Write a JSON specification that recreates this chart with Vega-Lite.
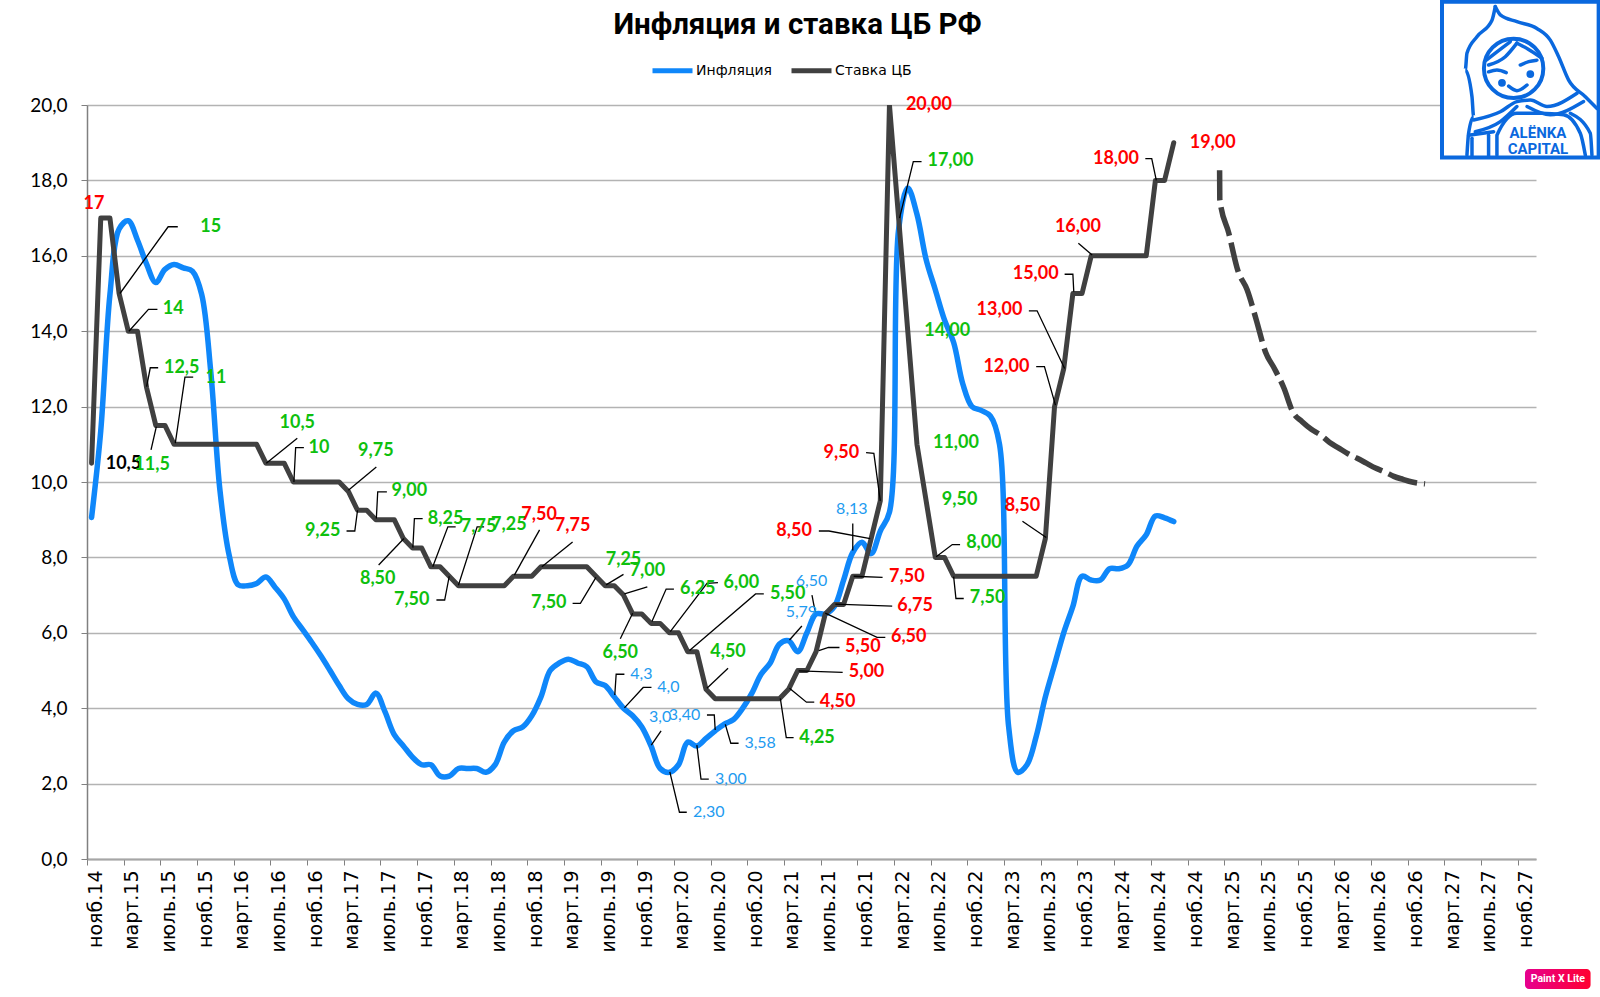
{"$schema":"https://vega.github.io/schema/vega-lite/v6.json","width":1449,"height":754,"autosize":{"type":"none"},"padding":{"left":87,"top":105,"right":64,"bottom":138},"background":"white","title":{"text":"Инфляция и ставка ЦБ РФ","font":"Roboto","fontSize":29.5,"fontWeight":"bold","color":"#000000","anchor":"middle","frame":"group","dx":-14,"offset":-41},"config":{"view":{"stroke":null}},"resolve":{"scale":{"color":"independent"}},"datasets":{"main":[{"date":"2014-11","m":0,"Инфляция":9.06,"Ставка ЦБ":10.5},{"date":"2014-12","m":1,"Инфляция":11.36,"Ставка ЦБ":17},{"date":"2015-01","m":2,"Инфляция":14.97,"Ставка ЦБ":17},{"date":"2015-02","m":3,"Инфляция":16.71,"Ставка ЦБ":15},{"date":"2015-03","m":4,"Инфляция":16.93,"Ставка ЦБ":14},{"date":"2015-04","m":5,"Инфляция":16.42,"Ставка ЦБ":14},{"date":"2015-05","m":6,"Инфляция":15.78,"Ставка ЦБ":12.5},{"date":"2015-06","m":7,"Инфляция":15.29,"Ставка ЦБ":11.5},{"date":"2015-07","m":8,"Инфляция":15.64,"Ставка ЦБ":11.5},{"date":"2015-08","m":9,"Инфляция":15.77,"Ставка ЦБ":11},{"date":"2015-09","m":10,"Инфляция":15.68,"Ставка ЦБ":11},{"date":"2015-10","m":11,"Инфляция":15.59,"Ставка ЦБ":11},{"date":"2015-11","m":12,"Инфляция":14.98,"Ставка ЦБ":11},{"date":"2015-12","m":13,"Инфляция":12.91,"Ставка ЦБ":11},{"date":"2016-01","m":14,"Инфляция":9.77,"Ставка ЦБ":11},{"date":"2016-02","m":15,"Инфляция":8.06,"Ставка ЦБ":11},{"date":"2016-03","m":16,"Инфляция":7.27,"Ставка ЦБ":11},{"date":"2016-04","m":17,"Инфляция":7.25,"Ставка ЦБ":11},{"date":"2016-05","m":18,"Инфляция":7.31,"Ставка ЦБ":11},{"date":"2016-06","m":19,"Инфляция":7.48,"Ставка ЦБ":10.5},{"date":"2016-07","m":20,"Инфляция":7.21,"Ставка ЦБ":10.5},{"date":"2016-08","m":21,"Инфляция":6.9,"Ставка ЦБ":10.5},{"date":"2016-09","m":22,"Инфляция":6.43,"Ставка ЦБ":10},{"date":"2016-10","m":23,"Инфляция":6.09,"Ставка ЦБ":10},{"date":"2016-11","m":24,"Инфляция":5.75,"Ставка ЦБ":10},{"date":"2016-12","m":25,"Инфляция":5.39,"Ставка ЦБ":10},{"date":"2017-01","m":26,"Инфляция":5.0,"Ставка ЦБ":10},{"date":"2017-02","m":27,"Инфляция":4.6,"Ставка ЦБ":10},{"date":"2017-03","m":28,"Инфляция":4.25,"Ставка ЦБ":9.75},{"date":"2017-04","m":29,"Инфляция":4.1,"Ставка ЦБ":9.25},{"date":"2017-05","m":30,"Инфляция":4.1,"Ставка ЦБ":9.25},{"date":"2017-06","m":31,"Инфляция":4.4,"Ставка ЦБ":9},{"date":"2017-07","m":32,"Инфляция":3.9,"Ставка ЦБ":9},{"date":"2017-08","m":33,"Инфляция":3.3,"Ставка ЦБ":9},{"date":"2017-09","m":34,"Инфляция":3.0,"Ставка ЦБ":8.5},{"date":"2017-10","m":35,"Инфляция":2.7,"Ставка ЦБ":8.25},{"date":"2017-11","m":36,"Инфляция":2.5,"Ставка ЦБ":8.25},{"date":"2017-12","m":37,"Инфляция":2.5,"Ставка ЦБ":7.75},{"date":"2018-01","m":38,"Инфляция":2.2,"Ставка ЦБ":7.75},{"date":"2018-02","m":39,"Инфляция":2.2,"Ставка ЦБ":7.5},{"date":"2018-03","m":40,"Инфляция":2.4,"Ставка ЦБ":7.25},{"date":"2018-04","m":41,"Инфляция":2.4,"Ставка ЦБ":7.25},{"date":"2018-05","m":42,"Инфляция":2.4,"Ставка ЦБ":7.25},{"date":"2018-06","m":43,"Инфляция":2.3,"Ставка ЦБ":7.25},{"date":"2018-07","m":44,"Инфляция":2.5,"Ставка ЦБ":7.25},{"date":"2018-08","m":45,"Инфляция":3.1,"Ставка ЦБ":7.25},{"date":"2018-09","m":46,"Инфляция":3.4,"Ставка ЦБ":7.5},{"date":"2018-10","m":47,"Инфляция":3.5,"Ставка ЦБ":7.5},{"date":"2018-11","m":48,"Инфляция":3.8,"Ставка ЦБ":7.5},{"date":"2018-12","m":49,"Инфляция":4.3,"Ставка ЦБ":7.75},{"date":"2019-01","m":50,"Инфляция":5.0,"Ставка ЦБ":7.75},{"date":"2019-02","m":51,"Инфляция":5.2,"Ставка ЦБ":7.75},{"date":"2019-03","m":52,"Инфляция":5.3,"Ставка ЦБ":7.75},{"date":"2019-04","m":53,"Инфляция":5.2,"Ставка ЦБ":7.75},{"date":"2019-05","m":54,"Инфляция":5.1,"Ставка ЦБ":7.75},{"date":"2019-06","m":55,"Инфляция":4.7,"Ставка ЦБ":7.5},{"date":"2019-07","m":56,"Инфляция":4.6,"Ставка ЦБ":7.25},{"date":"2019-08","m":57,"Инфляция":4.3,"Ставка ЦБ":7.25},{"date":"2019-09","m":58,"Инфляция":4.0,"Ставка ЦБ":7},{"date":"2019-10","m":59,"Инфляция":3.8,"Ставка ЦБ":6.5},{"date":"2019-11","m":60,"Инфляция":3.5,"Ставка ЦБ":6.5},{"date":"2019-12","m":61,"Инфляция":3.0,"Ставка ЦБ":6.25},{"date":"2020-01","m":62,"Инфляция":2.4,"Ставка ЦБ":6.25},{"date":"2020-02","m":63,"Инфляция":2.3,"Ставка ЦБ":6},{"date":"2020-03","m":64,"Инфляция":2.5,"Ставка ЦБ":6},{"date":"2020-04","m":65,"Инфляция":3.1,"Ставка ЦБ":5.5},{"date":"2020-05","m":66,"Инфляция":3.0,"Ставка ЦБ":5.5},{"date":"2020-06","m":67,"Инфляция":3.2,"Ставка ЦБ":4.5},{"date":"2020-07","m":68,"Инфляция":3.4,"Ставка ЦБ":4.25},{"date":"2020-08","m":69,"Инфляция":3.58,"Ставка ЦБ":4.25},{"date":"2020-09","m":70,"Инфляция":3.7,"Ставка ЦБ":4.25},{"date":"2020-10","m":71,"Инфляция":4.0,"Ставка ЦБ":4.25},{"date":"2020-11","m":72,"Инфляция":4.4,"Ставка ЦБ":4.25},{"date":"2020-12","m":73,"Инфляция":4.9,"Ставка ЦБ":4.25},{"date":"2021-01","m":74,"Инфляция":5.2,"Ставка ЦБ":4.25},{"date":"2021-02","m":75,"Инфляция":5.7,"Ставка ЦБ":4.25},{"date":"2021-03","m":76,"Инфляция":5.79,"Ставка ЦБ":4.5},{"date":"2021-04","m":77,"Инфляция":5.5,"Ставка ЦБ":5},{"date":"2021-05","m":78,"Инфляция":6.0,"Ставка ЦБ":5},{"date":"2021-06","m":79,"Инфляция":6.5,"Ставка ЦБ":5.5},{"date":"2021-07","m":80,"Инфляция":6.5,"Ставка ЦБ":6.5},{"date":"2021-08","m":81,"Инфляция":6.7,"Ставка ЦБ":6.75},{"date":"2021-09","m":82,"Инфляция":7.4,"Ставка ЦБ":6.75},{"date":"2021-10","m":83,"Инфляция":8.13,"Ставка ЦБ":7.5},{"date":"2021-11","m":84,"Инфляция":8.4,"Ставка ЦБ":7.5},{"date":"2021-12","m":85,"Инфляция":8.1,"Ставка ЦБ":8.5},{"date":"2022-01","m":86,"Инфляция":8.7,"Ставка ЦБ":9.5},{"date":"2022-02","m":87,"Инфляция":9.2,"Ставка ЦБ":20},{"date":"2022-03","m":88,"Инфляция":16.7,"Ставка ЦБ":17},{"date":"2022-04","m":89,"Инфляция":17.8,"Ставка ЦБ":14},{"date":"2022-05","m":90,"Инфляция":17.1,"Ставка ЦБ":11},{"date":"2022-06","m":91,"Инфляция":15.9,"Ставка ЦБ":9.5},{"date":"2022-07","m":92,"Инфляция":15.1,"Ставка ЦБ":8},{"date":"2022-08","m":93,"Инфляция":14.3,"Ставка ЦБ":8},{"date":"2022-09","m":94,"Инфляция":13.7,"Ставка ЦБ":7.5},{"date":"2022-10","m":95,"Инфляция":12.6,"Ставка ЦБ":7.5},{"date":"2022-11","m":96,"Инфляция":12.0,"Ставка ЦБ":7.5},{"date":"2022-12","m":97,"Инфляция":11.9,"Ставка ЦБ":7.5},{"date":"2023-01","m":98,"Инфляция":11.75,"Ставка ЦБ":7.5},{"date":"2023-02","m":99,"Инфляция":11.0,"Ставка ЦБ":7.5},{"date":"2023-03","m":100,"Инфляция":3.5,"Ставка ЦБ":7.5},{"date":"2023-04","m":101,"Инфляция":2.3,"Ставка ЦБ":7.5},{"date":"2023-05","m":102,"Инфляция":2.5,"Ставка ЦБ":7.5},{"date":"2023-06","m":103,"Инфляция":3.25,"Ставка ЦБ":7.5},{"date":"2023-07","m":104,"Инфляция":4.3,"Ставка ЦБ":8.5},{"date":"2023-08","m":105,"Инфляция":5.15,"Ставка ЦБ":12},{"date":"2023-09","m":106,"Инфляция":6.0,"Ставка ЦБ":13},{"date":"2023-10","m":107,"Инфляция":6.7,"Ставка ЦБ":15},{"date":"2023-11","m":108,"Инфляция":7.5,"Ставка ЦБ":15},{"date":"2023-12","m":109,"Инфляция":7.4,"Ставка ЦБ":16},{"date":"2024-01","m":110,"Инфляция":7.4,"Ставка ЦБ":16},{"date":"2024-02","m":111,"Инфляция":7.7,"Ставка ЦБ":16},{"date":"2024-03","m":112,"Инфляция":7.7,"Ставка ЦБ":16},{"date":"2024-04","m":113,"Инфляция":7.8,"Ставка ЦБ":16},{"date":"2024-05","m":114,"Инфляция":8.3,"Ставка ЦБ":16},{"date":"2024-06","m":115,"Инфляция":8.6,"Ставка ЦБ":16},{"date":"2024-07","m":116,"Инфляция":9.1,"Ставка ЦБ":18},{"date":"2024-08","m":117,"Инфляция":9.05,"Ставка ЦБ":18},{"date":"2024-09","m":118,"Инфляция":8.95,"Ставка ЦБ":19}],"forecast":[{"m":123,"v":18.27},{"m":123.02,"v":17.5},{"m":124,"v":16.6},{"m":125,"v":15.6},{"m":126,"v":15.1},{"m":127,"v":14.3},{"m":128,"v":13.45},{"m":129,"v":13.0},{"m":130,"v":12.5},{"m":131,"v":11.85},{"m":132,"v":11.6},{"m":133,"v":11.4},{"m":134,"v":11.25},{"m":135,"v":11.05},{"m":136,"v":10.9},{"m":137,"v":10.75},{"m":138,"v":10.63},{"m":139,"v":10.5},{"m":140,"v":10.37},{"m":141,"v":10.27},{"m":142,"v":10.15},{"m":143,"v":10.07},{"m":144,"v":10.0},{"m":145.4,"v":9.95}],"rateLabels":[{"t":"17","m":0.25,"v":17.37,"k":"рост"},{"t":"15","m":13,"v":16.77,"k":"снижение"},{"t":"14","m":8.9,"v":14.58,"k":"снижение"},{"t":"12,5","m":9.83,"v":13.03,"k":"снижение"},{"t":"11","m":13.57,"v":12.77,"k":"снижение"},{"t":"10,5","m":3.48,"v":10.49,"k":"прочее"},{"t":"11,5","m":6.6,"v":10.45,"k":"снижение"},{"t":"10,5","m":22.43,"v":11.57,"k":"снижение"},{"t":"10","m":24.8,"v":10.91,"k":"снижение"},{"t":"9,75","m":31,"v":10.82,"k":"снижение"},{"t":"9,25","m":25.2,"v":8.7,"k":"снижение"},{"t":"9,00","m":34.65,"v":9.76,"k":"снижение"},{"t":"8,25","m":38.6,"v":9.03,"k":"снижение"},{"t":"8,50","m":31.2,"v":7.42,"k":"снижение"},{"t":"7,75","m":42.2,"v":8.81,"k":"снижение"},{"t":"7,25","m":45.5,"v":8.86,"k":"снижение"},{"t":"7,50","m":34.9,"v":6.87,"k":"снижение"},{"t":"7,50","m":48.8,"v":9.12,"k":"рост"},{"t":"7,75","m":52.45,"v":8.83,"k":"рост"},{"t":"7,25","m":58,"v":7.93,"k":"снижение"},{"t":"7,00","m":60.6,"v":7.65,"k":"снижение"},{"t":"7,50","m":49.85,"v":6.78,"k":"снижение"},{"t":"6,50","m":57.65,"v":5.46,"k":"снижение"},{"t":"6,25","m":66.1,"v":7.16,"k":"снижение"},{"t":"6,00","m":70.85,"v":7.33,"k":"снижение"},{"t":"5,50","m":75.9,"v":7.03,"k":"снижение"},{"t":"4,50","m":69.4,"v":5.48,"k":"снижение"},{"t":"4,25","m":79.1,"v":3.22,"k":"снижение"},{"t":"4,50","m":81.35,"v":4.16,"k":"рост"},{"t":"5,00","m":84.5,"v":4.97,"k":"рост"},{"t":"5,50","m":84.1,"v":5.63,"k":"рост"},{"t":"6,50","m":89.1,"v":5.88,"k":"рост"},{"t":"6,75","m":89.8,"v":6.71,"k":"рост"},{"t":"7,50","m":88.9,"v":7.47,"k":"рост"},{"t":"8,50","m":76.6,"v":8.7,"k":"рост"},{"t":"9,50","m":81.75,"v":10.78,"k":"рост"},{"t":"20,00","m":91.3,"v":19.99,"k":"рост"},{"t":"17,00","m":93.65,"v":18.52,"k":"снижение"},{"t":"14,00","m":93.3,"v":14.01,"k":"снижение"},{"t":"11,00","m":94.25,"v":11.03,"k":"снижение"},{"t":"9,50","m":94.65,"v":9.52,"k":"снижение"},{"t":"8,00","m":97.3,"v":8.37,"k":"снижение"},{"t":"7,50","m":97.7,"v":6.91,"k":"снижение"},{"t":"8,50","m":101.5,"v":9.36,"k":"рост"},{"t":"12,00","m":99.75,"v":13.06,"k":"рост"},{"t":"13,00","m":99,"v":14.56,"k":"рост"},{"t":"15,00","m":102.95,"v":15.52,"k":"рост"},{"t":"16,00","m":107.55,"v":16.76,"k":"рост"},{"t":"18,00","m":111.7,"v":18.58,"k":"рост"},{"t":"19,00","m":122.25,"v":19,"k":"рост"}],"cpiLabels":[{"t":"8,13","m":82.9,"v":9.28},{"t":"6,50","m":78.5,"v":7.37},{"t":"5,79","m":77.4,"v":6.54},{"t":"4,3","m":59.95,"v":4.9},{"t":"4,0","m":62.9,"v":4.55},{"t":"3,0","m":62,"v":3.77},{"t":"3,40","m":64.65,"v":3.82},{"t":"3,58","m":72.9,"v":3.07},{"t":"3,00","m":69.7,"v":2.12},{"t":"2,30","m":67.3,"v":1.24}],"leaders":[{"id":1,"o":1,"m":3.09,"v":15},{"id":1,"o":2,"m":8.35,"v":16.77},{"id":1,"o":3,"m":9.4,"v":16.77},{"id":2,"o":1,"m":4.07,"v":14},{"id":2,"o":2,"m":6.2,"v":14.58},{"id":2,"o":3,"m":7.18,"v":14.58},{"id":3,"o":1,"m":6,"v":12.53},{"id":3,"o":2,"m":6.4,"v":13.03},{"id":3,"o":3,"m":7.26,"v":13.03},{"id":4,"o":1,"m":9.13,"v":11.03},{"id":4,"o":2,"m":10.18,"v":12.78},{"id":4,"o":3,"m":11.08,"v":12.78},{"id":5,"o":1,"m":7.06,"v":11.47},{"id":5,"o":2,"m":6.48,"v":10.85},{"id":6,"o":1,"m":19.05,"v":10.5},{"id":6,"o":2,"m":22.43,"v":11.16},{"id":7,"o":1,"m":22.06,"v":10},{"id":7,"o":2,"m":22.25,"v":10.91},{"id":7,"o":3,"m":23.15,"v":10.91},{"id":8,"o":1,"m":28,"v":9.78},{"id":8,"o":2,"m":31.05,"v":10.4},{"id":9,"o":1,"m":29,"v":9.25},{"id":9,"o":2,"m":28.7,"v":8.7},{"id":9,"o":3,"m":27.8,"v":8.7},{"id":10,"o":1,"m":31.05,"v":9.03},{"id":10,"o":2,"m":31.2,"v":9.74},{"id":10,"o":3,"m":32.2,"v":9.74},{"id":11,"o":1,"m":35.03,"v":8.26},{"id":11,"o":2,"m":35.2,"v":9.03},{"id":11,"o":3,"m":36.1,"v":9.03},{"id":12,"o":1,"m":34.06,"v":8.5},{"id":12,"o":2,"m":31.3,"v":7.8},{"id":13,"o":1,"m":37.2,"v":7.75},{"id":13,"o":2,"m":38.85,"v":8.81},{"id":13,"o":3,"m":39.7,"v":8.81},{"id":14,"o":1,"m":40,"v":7.26},{"id":14,"o":2,"m":42.04,"v":8.81},{"id":14,"o":3,"m":42.8,"v":8.81},{"id":15,"o":1,"m":39,"v":7.5},{"id":15,"o":2,"m":38.5,"v":6.87},{"id":15,"o":3,"m":37.6,"v":6.87},{"id":16,"o":1,"m":46.1,"v":7.53},{"id":16,"o":2,"m":48.85,"v":8.73},{"id":17,"o":1,"m":49.1,"v":7.75},{"id":17,"o":2,"m":52.45,"v":8.41},{"id":18,"o":1,"m":56.1,"v":7.27},{"id":18,"o":2,"m":58,"v":7.55},{"id":19,"o":1,"m":58.1,"v":7.03},{"id":19,"o":2,"m":60.6,"v":7.22},{"id":20,"o":1,"m":55,"v":7.47},{"id":20,"o":2,"m":53.3,"v":6.78},{"id":20,"o":3,"m":52.45,"v":6.78},{"id":21,"o":1,"m":59,"v":6.52},{"id":21,"o":2,"m":57.65,"v":5.84},{"id":22,"o":1,"m":61.1,"v":6.3},{"id":22,"o":2,"m":62.65,"v":7.16},{"id":22,"o":3,"m":63.5,"v":7.16},{"id":23,"o":1,"m":63.1,"v":6.03},{"id":23,"o":2,"m":67.1,"v":7.31},{"id":23,"o":3,"m":68.3,"v":7.33},{"id":24,"o":1,"m":65.2,"v":5.53},{"id":24,"o":2,"m":72.4,"v":7.03},{"id":24,"o":3,"m":73.3,"v":7.03},{"id":25,"o":1,"m":67.1,"v":4.53},{"id":25,"o":2,"m":69.4,"v":5.06},{"id":26,"o":1,"m":75.1,"v":4.26},{"id":26,"o":2,"m":75.75,"v":3.22},{"id":26,"o":3,"m":76.55,"v":3.22},{"id":27,"o":1,"m":76.1,"v":4.53},{"id":27,"o":2,"m":77.95,"v":4.16},{"id":27,"o":3,"m":78.8,"v":4.16},{"id":28,"o":1,"m":77.1,"v":4.99},{"id":28,"o":2,"m":81.9,"v":4.95},{"id":29,"o":1,"m":79.3,"v":5.53},{"id":29,"o":2,"m":80.35,"v":5.61},{"id":29,"o":3,"m":81.55,"v":5.61},{"id":30,"o":1,"m":80,"v":6.52},{"id":30,"o":2,"m":85.65,"v":5.88},{"id":30,"o":3,"m":86.55,"v":5.88},{"id":31,"o":1,"m":81.1,"v":6.76},{"id":31,"o":2,"m":87.3,"v":6.71},{"id":32,"o":1,"m":83.1,"v":7.5},{"id":32,"o":2,"m":86.25,"v":7.47},{"id":33,"o":1,"m":79.3,"v":8.7},{"id":33,"o":2,"m":80.4,"v":8.7},{"id":33,"o":3,"m":84.9,"v":8.5},{"id":34,"o":1,"m":84.45,"v":10.78},{"id":34,"o":2,"m":85.3,"v":10.76},{"id":34,"o":3,"m":86,"v":9.5},{"id":35,"o":1,"m":88.1,"v":17},{"id":35,"o":2,"m":89.6,"v":18.5},{"id":35,"o":3,"m":90.5,"v":18.5},{"id":36,"o":1,"m":92.1,"v":8.02},{"id":36,"o":2,"m":93.85,"v":8.34},{"id":36,"o":3,"m":94.7,"v":8.34},{"id":37,"o":1,"m":94,"v":7.49},{"id":37,"o":2,"m":94.25,"v":6.91},{"id":37,"o":3,"m":95.1,"v":6.91},{"id":38,"o":1,"m":104.1,"v":8.53},{"id":38,"o":2,"m":101.5,"v":8.96},{"id":39,"o":1,"m":105.1,"v":12.04},{"id":39,"o":2,"m":103.9,"v":13.06},{"id":39,"o":3,"m":103,"v":13.06},{"id":40,"o":1,"m":106.1,"v":13.01},{"id":40,"o":2,"m":103.1,"v":14.54},{"id":40,"o":3,"m":102.2,"v":14.54},{"id":41,"o":1,"m":107.1,"v":15.05},{"id":41,"o":2,"m":107,"v":15.51},{"id":41,"o":3,"m":106.1,"v":15.51},{"id":42,"o":1,"m":109.1,"v":16.02},{"id":42,"o":2,"m":107.6,"v":16.33},{"id":43,"o":1,"m":116.1,"v":18},{"id":43,"o":2,"m":115.6,"v":18.58},{"id":43,"o":3,"m":114.9,"v":18.58},{"id":44,"o":1,"m":83,"v":8.9},{"id":44,"o":2,"m":83,"v":8.18},{"id":45,"o":1,"m":78.55,"v":7},{"id":45,"o":2,"m":78.9,"v":6.56},{"id":46,"o":1,"m":77.45,"v":6.18},{"id":46,"o":2,"m":76.1,"v":5.81},{"id":47,"o":1,"m":57.05,"v":4.35},{"id":47,"o":2,"m":57.2,"v":4.9},{"id":47,"o":3,"m":58.1,"v":4.9},{"id":48,"o":1,"m":58.1,"v":4.01},{"id":48,"o":2,"m":60.15,"v":4.55},{"id":48,"o":3,"m":61.05,"v":4.55},{"id":49,"o":1,"m":61.03,"v":3.02},{"id":49,"o":2,"m":62.1,"v":3.4},{"id":50,"o":1,"m":68,"v":3.42},{"id":50,"o":2,"m":67.9,"v":3.82},{"id":50,"o":3,"m":67.1,"v":3.82},{"id":51,"o":1,"m":69.1,"v":3.57},{"id":51,"o":2,"m":69.7,"v":3.07},{"id":51,"o":3,"m":70.55,"v":3.07},{"id":52,"o":1,"m":66,"v":3.02},{"id":52,"o":2,"m":66.45,"v":2.12},{"id":52,"o":3,"m":67.3,"v":2.12},{"id":53,"o":1,"m":63.05,"v":2.31},{"id":53,"o":2,"m":64.1,"v":1.24},{"id":53,"o":3,"m":64.9,"v":1.24}],"logoLines":[{"id":"a","o":1,"m":153.06,"v":22.61},{"id":"a","o":2,"m":153.61,"v":22.39},{"id":"a","o":3,"m":155.42,"v":22.21},{"id":"a","o":4,"m":157.6,"v":22.03},{"id":"a","o":5,"m":159.06,"v":21.72},{"id":"a","o":6,"m":159.97,"v":21.28},{"id":"a","o":7,"m":161.06,"v":20.66},{"id":"a","o":8,"m":162.88,"v":20.22},{"id":"a","o":9,"m":164.15,"v":19.91},{"id":"b","o":1,"m":153.06,"v":22.61},{"id":"b","o":2,"m":152.7,"v":22.25},{"id":"b","o":3,"m":151.06,"v":21.81},{"id":"b","o":4,"m":149.97,"v":21.37},{"id":"b","o":5,"m":149.79,"v":20.93},{"id":"b","o":6,"m":150.52,"v":20.22},{"id":"b","o":7,"m":150.7,"v":19.69},{"id":"b","o":8,"m":150.15,"v":19.25},{"id":"b","o":9,"m":149.97,"v":18.67},{"id":"c","o":1,"m":152.33,"v":20.88},{"id":"c","o":2,"m":153.24,"v":20.93},{"id":"c","o":3,"m":154.26,"v":20.86},{"id":"d","o":1,"m":155.79,"v":21.06},{"id":"d","o":2,"m":156.7,"v":21.15},{"id":"d","o":3,"m":157.6,"v":21.19},{"id":"e","o":1,"m":152.08,"v":21.19},{"id":"e","o":2,"m":153.24,"v":21.41},{"id":"e","o":3,"m":154.7,"v":21.68},{"id":"f","o":1,"m":152.33,"v":21.06},{"id":"f","o":2,"m":154.15,"v":21.28},{"id":"f","o":3,"m":155.42,"v":21.64},{"id":"g","o":1,"m":155.42,"v":21.64},{"id":"g","o":2,"m":156.52,"v":21.5},{"id":"g","o":3,"m":158.15,"v":21.24},{"id":"h","o":1,"m":154.52,"v":20.5},{"id":"h","o":2,"m":155.42,"v":20.38},{"id":"h","o":3,"m":156.52,"v":20.53},{"id":"i","o":1,"m":150.7,"v":19.6},{"id":"i","o":2,"m":153.61,"v":19.82},{"id":"i","o":3,"m":155.42,"v":20.09},{"id":"i","o":4,"m":156.88,"v":20.13},{"id":"i","o":5,"m":158.7,"v":19.96},{"id":"i","o":6,"m":161.97,"v":20.31},{"id":"j","o":1,"m":150.88,"v":19.29},{"id":"j","o":2,"m":153.61,"v":19.56},{"id":"j","o":3,"m":155.42,"v":19.96},{"id":"k","o":1,"m":156.52,"v":19.96},{"id":"k","o":2,"m":159.06,"v":19.74},{"id":"k","o":3,"m":162.69,"v":20.09},{"id":"l","o":1,"m":153.24,"v":18.67},{"id":"l","o":2,"m":153.24,"v":19.2},{"id":"l","o":3,"m":155.42,"v":19.78},{"id":"l","o":4,"m":157.97,"v":19.78},{"id":"l","o":5,"m":160.51,"v":19.74},{"id":"l","o":6,"m":162.33,"v":19.25},{"id":"l","o":7,"m":162.88,"v":18.67},{"id":"n","o":1,"m":152.33,"v":18.67},{"id":"n","o":2,"m":152.33,"v":19.2},{"id":"p","o":1,"m":150.15,"v":19.2},{"id":"p","o":2,"m":152.88,"v":19.29},{"id":"q","o":1,"m":150.52,"v":18.67},{"id":"q","o":2,"m":150.52,"v":19.12},{"id":"r","o":1,"m":163.6,"v":18.67},{"id":"r","o":2,"m":163.42,"v":19.25},{"id":"r","o":3,"m":161.24,"v":19.78}]},"layer":[{"data":{"name":"main"},"transform":[{"fold":["Инфляция"],"as":["series","value"]}],"mark":{"type":"line","interpolate":"catmull-rom","strokeWidth":5.5,"strokeJoin":"round","strokeCap":"round"},"encoding":{"x":{"field":"m","type":"quantitative","title":null,"scale":{"domain":[-0.5,157.5],"nice":false,"zero":false},"axis":{"values":[-0.5,3.5,7.5,11.5,15.5,19.5,23.5,27.5,31.5,35.5,39.5,43.5,47.5,51.5,55.5,59.5,63.5,67.5,71.5,75.5,79.5,83.5,87.5,91.5,95.5,99.5,103.5,107.5,111.5,115.5,119.5,123.5,127.5,131.5,135.5,139.5,143.5,147.5,151.5,155.5],"tickCount":40,"labelExpr":"['нояб.','март.','июль.'][((datum.value+0.5)/4)%3]+(14+floor((datum.value+10.5)/12))","labelAngle":-90,"labelAlign":"right","labelBaseline":"middle","labelOffset":8,"labelFont":"DejaVu Sans","labelFontSize":19,"labelColor":"#000000","labelPadding":5,"labelOverlap":false,"labelBound":false,"labelFlush":false,"grid":false,"domainColor":"#a6a6a6","domainWidth":2,"tickColor":"#808080","tickSize":6,"tickWidth":1}},"y":{"field":"value","type":"quantitative","title":null,"scale":{"domain":[0,20],"nice":false},"axis":{"values":[0,2,4,6,8,10,12,14,16,18,20],"labelExpr":"replace(format(datum.value,'.1f'),'.',',')","labelFont":"Lato","labelFontSize":19,"labelColor":"#000000","labelPadding":14,"grid":true,"gridColor":"#b3b3b3","gridWidth":1.5,"domainColor":"#808080","domainWidth":1.5,"tickColor":"#808080","tickSize":6,"tickWidth":1}},"color":{"field":"series","type":"nominal","scale":{"domain":["Инфляция","Ставка ЦБ"],"range":["#0f87fa","#404040"]},"legend":{"orient":"none","legendX":563,"legendY":-57,"direction":"horizontal","title":null,"symbolType":"stroke","symbolSize":1600,"symbolStrokeWidth":5,"labelFont":"DejaVu Sans","labelFontSize":14,"labelColor":"#000000","labelOffset":1,"columnPadding":8,"values":["Инфляция","Ставка ЦБ"]}}}},{"data":{"name":"main"},"mark":{"type":"line","interpolate":"linear","color":"#404040","strokeWidth":5,"strokeJoin":"round","strokeCap":"round","clip":true},"encoding":{"x":{"field":"m","type":"quantitative"},"y":{"field":"Ставка ЦБ","type":"quantitative"}}},{"data":{"name":"forecast"},"mark":{"type":"line","interpolate":"monotone","color":"#404040","strokeWidth":5.5,"strokeDash":[30,7],"strokeCap":"butt"},"encoding":{"x":{"field":"m","type":"quantitative"},"y":{"field":"v","type":"quantitative"}}},{"data":{"name":"leaders"},"mark":{"type":"line","color":"#000000","strokeWidth":1.3},"encoding":{"x":{"field":"m","type":"quantitative"},"y":{"field":"v","type":"quantitative"},"detail":{"field":"id"},"order":{"field":"o","type":"quantitative"}}},{"data":{"name":"rateLabels"},"mark":{"type":"text","font":"Lato","fontWeight":"bold","fontSize":18,"align":"center","baseline":"middle"},"encoding":{"x":{"field":"m","type":"quantitative"},"y":{"field":"v","type":"quantitative"},"text":{"field":"t"},"color":{"field":"k","type":"nominal","scale":{"domain":["рост","снижение","прочее"],"range":["#ff0000","#0ec00e","#000000"]},"legend":null}}},{"data":{"name":"cpiLabels"},"mark":{"type":"text","font":"Lato","fontSize":16,"align":"center","baseline":"middle","color":"#1e9bf0"},"encoding":{"x":{"field":"m","type":"quantitative"},"y":{"field":"v","type":"quantitative"},"text":{"field":"t"}}},{"data":{"values":[{"m":147.25,"m2":164.33,"v":22.74,"v2":18.61}]},"mark":{"type":"rect","fill":"#ffffff","stroke":"#0a68de","strokeWidth":4},"encoding":{"x":{"field":"m","type":"quantitative"},"x2":{"field":"m2"},"y":{"field":"v","type":"quantitative"},"y2":{"field":"v2"}}},{"data":{"name":"logoLines"},"mark":{"type":"line","color":"#0a68de","strokeWidth":3.5,"interpolate":"monotone","strokeCap":"round"},"encoding":{"x":{"field":"m","type":"quantitative"},"y":{"field":"v","type":"quantitative"},"detail":{"field":"id"},"order":{"field":"o","type":"quantitative"}}},{"data":{"values":[{"m":155.06,"v":20.97}]},"mark":{"type":"point","filled":false,"color":"#0a68de","strokeWidth":4,"size":3526,"opacity":1},"encoding":{"x":{"field":"m","type":"quantitative"},"y":{"field":"v","type":"quantitative"}}},{"data":{"values":[{"m":153.79,"v":20.59},{"m":156.88,"v":20.82}]},"mark":{"type":"point","filled":true,"color":"#0a68de","size":60,"opacity":1},"encoding":{"x":{"field":"m","type":"quantitative"},"y":{"field":"v","type":"quantitative"}}},{"data":{"values":[{"t":"ALËNKA","m":157.71,"v":19.25},{"t":"CAPITAL","m":157.71,"v":18.83}]},"mark":{"type":"text","font":"Roboto","fontWeight":"bold","fontSize":15,"color":"#0a68de","align":"center","baseline":"middle"},"encoding":{"x":{"field":"m","type":"quantitative"},"y":{"field":"v","type":"quantitative"},"text":{"field":"t"}}},{"data":{"values":[{"m":156.3,"m2":163.45,"v":-2.92,"v2":-3.45}]},"mark":{"type":"rect","fill":{"x1":0,"y1":0,"x2":1,"y2":0,"gradient":"linear","stops":[{"offset":0,"color":"#e6008f"},{"offset":1,"color":"#ff0030"}]},"cornerRadius":4},"encoding":{"x":{"field":"m","type":"quantitative"},"x2":{"field":"m2"},"y":{"field":"v","type":"quantitative"},"y2":{"field":"v2"}}},{"data":{"values":[{"t":"Paint X Lite","m":159.88,"v":-3.18}]},"mark":{"type":"text","font":"Roboto","fontWeight":"bold","fontSize":10.5,"color":"#ffffff","align":"center","baseline":"middle"},"encoding":{"x":{"field":"m","type":"quantitative"},"y":{"field":"v","type":"quantitative"},"text":{"field":"t"}}}]}
